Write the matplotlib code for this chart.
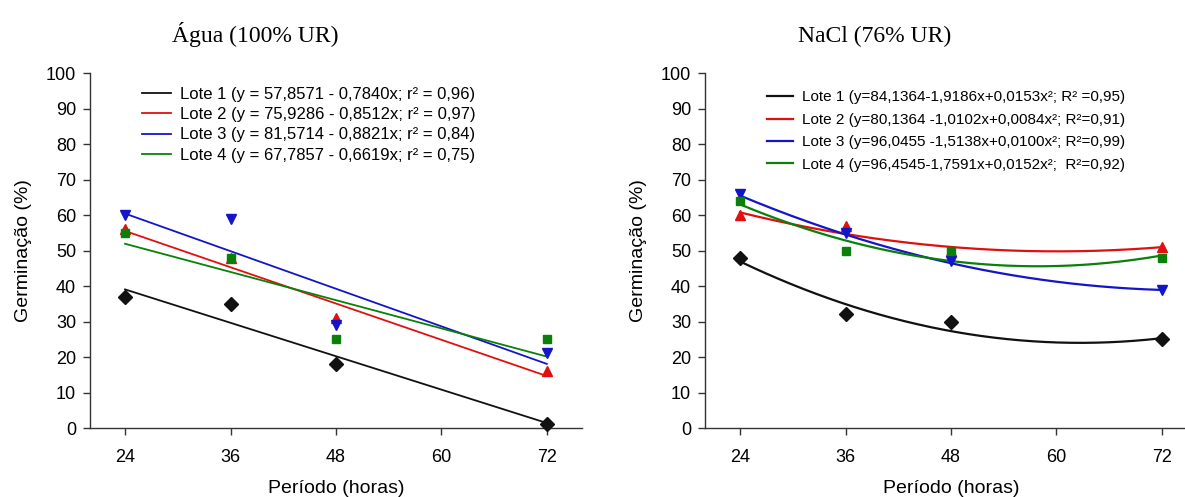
import numpy as np
import matplotlib
matplotlib.use("Agg")
import matplotlib.pyplot as plt

periodo = [24, 36, 48, 72]

# Agua (100% UR) - observed germination (%)
agua_lote1 = [37, 35, 18, 1]
agua_lote2 = [56, 48, 31, 16]
agua_lote3 = [60, 59, 29, 21]
agua_lote4 = [55, 48, 25, 25]

# NaCl (76% UR)
nacl_lote1 = [48, 32, 30, 25]
nacl_lote2 = [60, 57, 50, 51]
nacl_lote3 = [66, 55, 47, 39]
nacl_lote4 = [64, 50, 50, 48]

# regression coefficients shown in the legends (a, b, c): y = a + b*x + c*x^2
agua_coef = [(57.8571, -0.7840, 0.0), (75.9286, -0.8512, 0.0),
             (81.5714, -0.8821, 0.0), (67.7857, -0.6619, 0.0)]
nacl_coef = [(84.1364, -1.9186, 0.0153), (80.1364, -1.0102, 0.0084),
             (96.0455, -1.5138, 0.0100), (96.4545, -1.7591, 0.0152)]

agua_labels = [
    "Lote 1 (y = 57,8571 - 0,7840x; r² = 0,96)",
    "Lote 2 (y = 75,9286 - 0,8512x; r² = 0,97)",
    "Lote 3 (y = 81,5714 - 0,8821x; r² = 0,84)",
    "Lote 4 (y = 67,7857 - 0,6619x; r² = 0,75)",
]
nacl_labels = [
    "Lote 1 (y=84,1364-1,9186x+0,0153x²; R² =0,95)",
    "Lote 2 (y=80,1364 -1,0102x+0,0084x²; R²=0,91)",
    "Lote 3 (y=96,0455 -1,5138x+0,0100x²; R²=0,99)",
    "Lote 4 (y=96,4545-1,7591x+0,0152x²;  R²=0,92)",
]

cores = ["#111111", "#e01010", "#1414c8", "#0a800a"]
marcadores = ["D", "^", "v", "s"]
tamanhos = [7, 7.5, 7.5, 6]

plt.rcParams["font.family"] = ["Liberation Sans", "DejaVu Sans"]


def draw_panel(ax, dados, coefs, labels, titulo, lw, leg_size, leg_anchor, leg_space):
    xs = np.linspace(24, 72, 200)
    for (a, b, c), cor, lab in zip(coefs, cores, labels):
        ax.plot(xs, a + b * xs + c * xs ** 2, color=cor, lw=lw, label=lab)
    for y, cor, m, ms in zip(dados, cores, marcadores, tamanhos):
        ax.plot(periodo, y, linestyle="none", marker=m, color=cor,
                markersize=ms, clip_on=False, zorder=5)
    ax.set_xlim(20, 76)
    ax.set_ylim(0, 100)
    ax.set_xticks([24, 36, 48, 60, 72])
    ax.set_yticks(range(0, 101, 10))
    for s in ["top", "right"]:
        ax.spines[s].set_visible(False)
    for s in ["left", "bottom"]:
        ax.spines[s].set_color("#333333")
        ax.spines[s].set_linewidth(1.0)
    ax.tick_params(direction="out", length=5, width=1, colors="#333333",
                   labelsize=13, labelcolor="black", pad=5)
    ax.tick_params(axis="x", pad=10)
    ax.set_xlabel("Período (horas)", fontsize=14, labelpad=10)
    ax.set_ylabel("Germinação (%)", fontsize=14, labelpad=10)
    ax.set_title(titulo, fontsize=17, family=["Liberation Serif"], pad=22)
    ax.legend(loc="upper left", bbox_to_anchor=leg_anchor, frameon=False,
              fontsize=leg_size, handlelength=1.7, handletextpad=0.55,
              labelspacing=leg_space, borderaxespad=0)


fig = plt.figure(figsize=(11.85, 4.97), dpi=100)
ax1 = fig.add_axes([0.0759, 0.1388, 0.4152, 0.7143])
ax2 = fig.add_axes([0.5949, 0.1388, 0.4152, 0.7143])

draw_panel(ax1, [agua_lote1, agua_lote2, agua_lote3, agua_lote4], agua_coef,
           agua_labels, "Água (100% UR)", 1.3, 12, (0.093, 0.98), 0.32)
draw_panel(ax2, [nacl_lote1, nacl_lote2, nacl_lote3, nacl_lote4], nacl_coef,
           nacl_labels, "NaCl (76% UR)", 1.6, 11, (0.114, 0.968), 0.55)

ax1.title.set_position((0.335, 1.0))
ax2.title.set_position((0.3455, 1.0))

fig.savefig("out.png", dpi=100)
